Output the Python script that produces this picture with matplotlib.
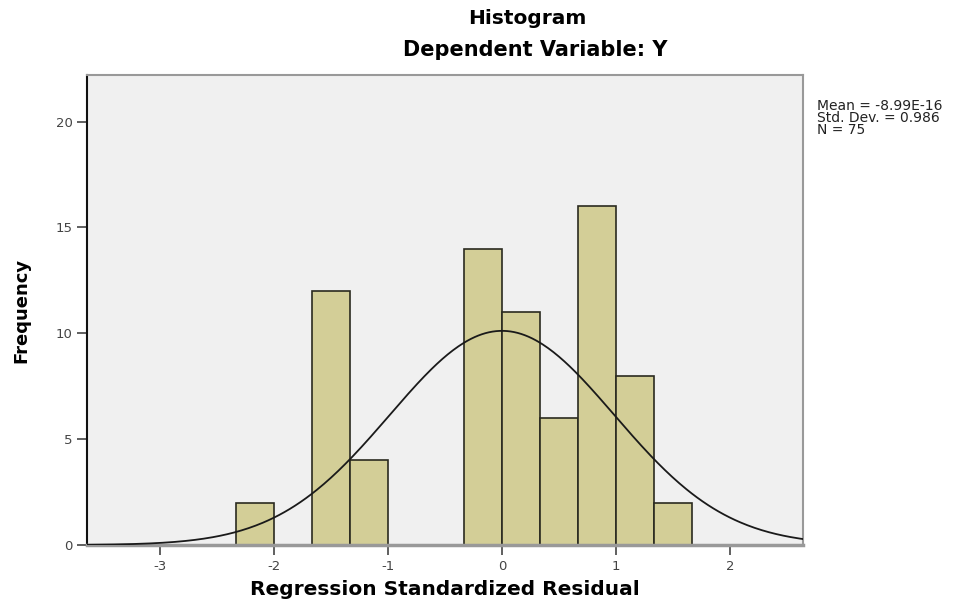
import numpy as np
import matplotlib.pyplot as plt

# histogram of regression standardized residuals (SPSS style)
bin_width = 1.0 / 3.0
bin_left = [-7, -6, -5, -4, -3, -2, -1, 0, 1, 2, 3, 4]  # in units of bin_width
counts = [2, 0, 12, 4, 0, 0, 14, 11, 6, 16, 8, 2]

mean = -8.99e-16
std_dev = 0.986
n = 75

x_ticks = [-3, -2, -1, 0, 1, 2]
y_ticks = [0, 5, 10, 15, 20]

plt.rcParams['font.family'] = ['DejaVu Sans']
plt.rcParams['axes.unicode_minus'] = False

fig = plt.figure(figsize=(9.68, 6.08), dpi=100)
ax = fig.add_axes([87 / 968, 63 / 608, 716 / 968, 470 / 608])
ax.set_facecolor('#F0F0F0')

lefts = np.array(bin_left) * bin_width
heights = np.array(counts)
keep = heights > 0
ax.bar(lefts[keep], heights[keep], width=bin_width, align='edge',
       color='#D3CE97', edgecolor='#2a2a20', linewidth=1.2, zorder=2)

xlim = (-3.64, 2.64)
xs = np.linspace(xlim[0], xlim[1], 400)
ys = n * bin_width * np.exp(-0.5 * ((xs - mean) / std_dev) ** 2) / (std_dev * np.sqrt(2 * np.pi))
ax.plot(xs, ys, color='#1a1a1a', linewidth=1.3, zorder=3)

ax.set_xlim(*xlim)
ax.set_ylim(0, 22.2)
ax.set_xticks(x_ticks)
ax.set_yticks(y_ticks)
ax.tick_params(axis='both', direction='out', length=7, width=1.2,
               color='#444444', labelcolor='#444444', labelsize=9.5)

ax.spines['left'].set_color('#111111')
ax.spines['left'].set_linewidth(1.5)
ax.spines['bottom'].set_color('#999999')
ax.spines['bottom'].set_linewidth(2.5)
for s in ['top', 'right']:
    ax.spines[s].set_color('#999999')
    ax.spines[s].set_linewidth(1.5)

ax.set_xlabel('Regression Standardized Residual', fontsize=14.5, fontweight='bold', labelpad=5)
ax.set_ylabel('Frequency', fontsize=13, fontweight='bold', labelpad=18)

fig.text(527 / 968, 1 - 18 / 608, 'Histogram', ha='center', va='center',
         fontsize=14.5, fontweight='bold')
fig.text(535 / 968, 1 - 50 / 608, 'Dependent Variable: Y', ha='center', va='center',
         fontsize=15, fontweight='bold')

fig.text(817 / 968, 1 - 99 / 608,
         'Mean = %.2E\nStd. Dev. = %.3f\nN = %d' % (mean, std_dev, n),
         ha='left', va='top', fontsize=10, linespacing=0.8, color='#222222')

fig.savefig('out.png', dpi=100)
